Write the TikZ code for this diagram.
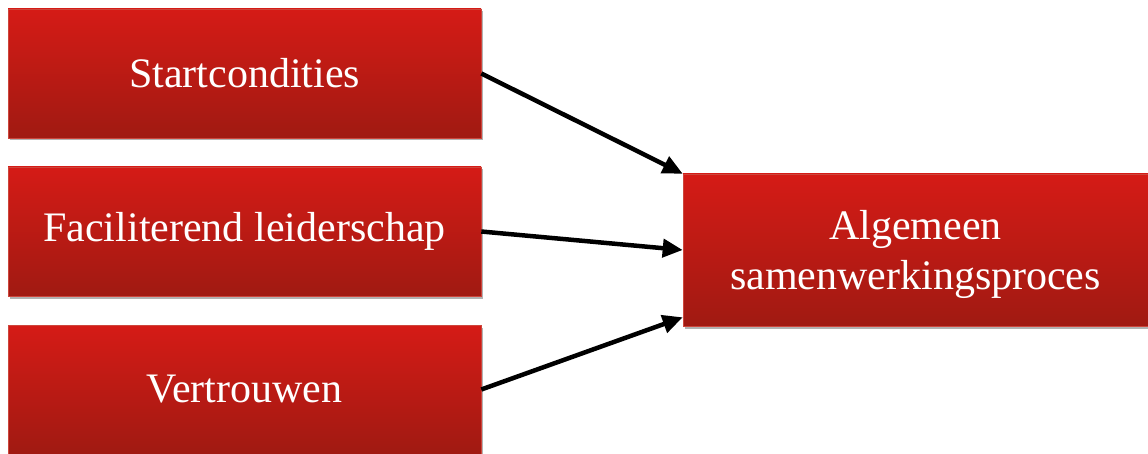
\documentclass[tikz,border=0pt]{standalone}
\usepackage{fontspec}
\setmainfont{Liberation Serif}
\usetikzlibrary{arrows.meta,shadows,calc}
\definecolor{boxtop}{RGB}{213,27,22}
\definecolor{boxbot}{RGB}{160,26,18}
\definecolor{boxedge}{RGB}{205,70,60}
\begin{document}
\begin{tikzpicture}[x=1pt,y=-1pt,
  redbox/.style={rectangle, inner sep=0pt, top color=boxtop, bottom color=boxbot,
    draw=boxedge, line width=0.6pt, text=white, align=center,
    font=\fontsize{42}{50}\selectfont,
    drop shadow={shadow xshift=1.5pt, shadow yshift=-2.5pt, opacity=0.3, fill=black}},
  leftbox/.style={redbox, minimum width=473pt, minimum height=129pt},
  conn/.style={line width=4.5pt, -{Triangle[length=20pt,width=18pt]}}
]
\useasboundingbox (0,0) rectangle (1148,454);
\node[leftbox] (s1) at (244.5,73.5) {Startcondities};
\node[leftbox] (s2) at (244.5,231.5) {Faciliterend leiderschap};
\node[leftbox] (s3) at (244.5,389.5) {Vertrouwen};
\node[redbox, minimum width=465pt, minimum height=152pt] (p) at (915.5,250) {};
\node[text=white, align=center, font=\fontsize{42}{50}\selectfont, inner sep=0pt] (pt) at (915.5,254) {Algemeen\\samenwerkingsproces};
\coordinate (e1) at ($(p.north west)+(0,0)$);
\coordinate (e3) at ($(p.south west)+(0,-9)$);
\draw[conn] (s1.east) -- (e1);
\draw[conn] (s2.east) -- (p.west);
\draw[conn] (s3.east) -- (e3);
\end{tikzpicture}
\end{document}
